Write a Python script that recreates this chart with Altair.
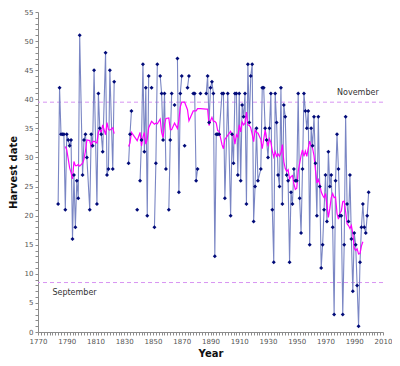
import altair as alt
import pandas as pd

years_a = [1784, 1785, 1786, 1787, 1788, 1789, 1790, 1791, 1792, 1793, 1794, 1795,
           1796, 1797, 1798, 1799, 1801, 1802, 1803, 1804, 1806, 1807, 1808, 1809,
           1811, 1812, 1813, 1814, 1815, 1817, 1818, 1819, 1820, 1822, 1823, 1828]
dates_a = [22, 42, 34, 34, 34, 21, 34, 33, 32, 33, 16, 27,
           18, 26, 23, 51, 27, 33, 34, 30, 21, 34, 32, 45,
           22, 41, 35, 34, 31, 48, 27, 28, 45, 28, 43, None]

years_b = [1833, 1834, 1835, 1837, 1839, 1840, 1841, 1842, 1843, 1844, 1845, 1846,
           1847, 1848, 1849, 1850, 1851, 1852, 1853, 1854, 1855, 1856, 1857, 1858,
           1859, 1860, 1861, 1862, 1863, 1864, 1865, 1866, 1867, 1868, 1869, 1870,
           1871, 1872, 1873, 1874, 1875, 1876, 1878, 1879, 1880, 1881, 1882, 1883,
           1885, 1887, 1888, 1889, 1890, 1891, 1892, 1893, 1894, 1895, 1896, 1898,
           1899, 1900, 1902]
dates_b = [29, 34, 38, None, 21, None, 26, 33, 46, 31, 42, 20,
           44, None, 42, None, 18, 29, 46, None, 44, 41, 33, 41,
           28, None, 21, 33, 41, None, 39, None, 47, 24, 41, 44,
           None, 32, None, 42, 44, None, 41, 41, 26, 28, None, 41,
           None, 41, 44, 36, 42, 43, 41, 13, 34, 34, 34, 41,
           41, 23, 41]

years_c = list(range(1904, 1924)) + list(range(1925, 2001))
dates_c = [20, 34, 29, 41, 41, 27, 41, 26, 39, 37, 41, 22, 46, 36, 44, 46, 19, 25, 35, 26,
           28, 42, 42, 35, 33, 30, 35, 41, 21, 12, 41, 36, 27, 25, 42, 22, 39, 37, 27, 26,
           12, 24, 22, 28, 26, 26, 41, 23, 17, 28, 41, 38, 35, 38, 15, 35, 32, 37, 29, 20,
           37, 25, 11, 15, 21, 27, 19, 31, 25, 27, 18, 3, 26, 34, 28, 20, 20, 3, 15, 37,
           22, 19, 27, 16, 7, 17, 15, 8, 1, 12, 18, 22, 18, 17, 20, 24]

ref_dates = [39.5, 8.5]            # November / September lines
ref_names = ["November", "September"]
label_years = [2007, 1780]
label_dates = [41, 6.7]

years = years_a + years_b + years_c
dates = dates_a + dates_b + dates_c
assert len(years) == len(dates)

df = pd.DataFrame({"year": years, "date": dates})
refs = pd.DataFrame({"date": ref_dates})
labs = pd.DataFrame({"year": label_years, "date": label_dates, "label": ref_names})

FONT = "DejaVu Sans"

x_enc = alt.X(
    "year:Q",
    scale=alt.Scale(domain=[1770, 2010], nice=False, zero=False),
    axis=alt.Axis(
        values=list(range(1770, 2011, 2)),
        labelExpr="(datum.value - 1770) % 20 == 0 ? format(datum.value, 'd') : ''",
        labelOverlap=False,
        labelFlush=False,
        tickSize=3,
        grid=False,
        titlePadding=4,
    ),
    title="Year",
)
y_enc = alt.Y(
    "date:Q",
    scale=alt.Scale(domain=[0, 55], nice=False),
    axis=alt.Axis(
        values=list(range(0, 56)),
        labelExpr="datum.value % 5 == 0 ? datum.label : ''",
        labelOverlap=False,
        tickSize=3,
        grid=False,
        titlePadding=6,
    ),
    title="Harvest date",
)

base = alt.Chart(df)

rules = alt.Chart(refs).mark_rule(color="#d894f2", strokeDash=[4, 3], strokeWidth=1).encode(y=y_enc)

blue = base.mark_line(color="#7a86c4", strokeWidth=1.1,
                      invalid="break-paths-filter-domains").encode(x=x_enc, y=y_enc)

pts = base.transform_filter("isValid(datum.date)").mark_point(
    shape="diamond", filled=True, size=16, color="#000a78", opacity=1
).encode(x=x_enc, y=y_enc)

ma = (
    base.transform_filter("isValid(datum.date)")
    .transform_window(ma="mean(date)", frame=[-5, 4], sort=[alt.SortField("year")])
    .transform_window(rn="row_number()", sort=[alt.SortField("year")])
    .transform_joinaggregate(n="count()")
    .transform_filter("datum.rn >= 6 && datum.rn <= datum.n - 4")
    .transform_calculate(date="datum.ma", seg="datum.year < 1830 ? 1 : 2")
    .mark_line(color="#ff00ff", strokeWidth=1.2)
    .encode(x=x_enc, y=y_enc, detail="seg:N")
)

lab_nov = alt.Chart(labs[labs.label == "November"]).mark_text(
    align="right", baseline="middle", font=FONT, fontSize=8, color="#333333"
).encode(x=x_enc, y=y_enc, text="label:N")
lab_sep = alt.Chart(labs[labs.label == "September"]).mark_text(
    align="left", baseline="middle", font=FONT, fontSize=8, color="#333333"
).encode(x=x_enc, y=y_enc, text="label:N")

chart = (
    alt.layer(rules, blue, ma, pts, lab_nov, lab_sep)
    .properties(
        width=384, height=350,
        autosize=alt.AutoSizeParams(type="fit", contains="padding"),
        padding={"left": 0, "top": 0, "right": 0, "bottom": 0},
    )
    .configure_view(stroke="transparent")
    .configure_axis(
        domainColor="#8c8c8c", tickColor="#8c8c8c",
        labelColor="#555555", labelFont=FONT, labelFontSize=7,
        titleFont=FONT, titleFontSize=10, titleFontWeight="bold", titleColor="#111111",
    )
)

chart.save("out.html", embed_options={"renderer": "svg", "actions": False})
